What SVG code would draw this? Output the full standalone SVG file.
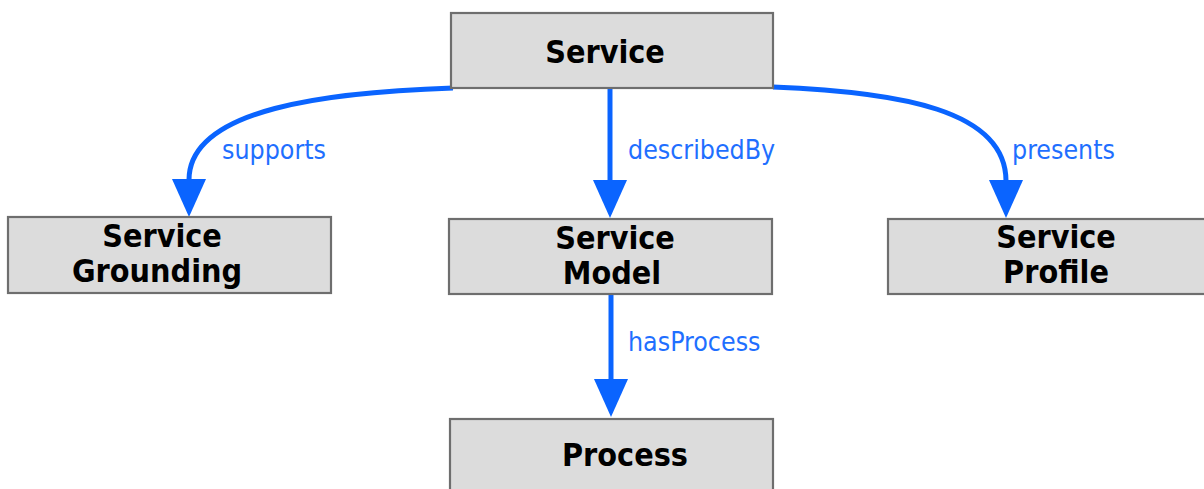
<svg xmlns="http://www.w3.org/2000/svg" width="1204" height="489" viewBox="0 0 1204 489">
<style>
.box{fill:#dcdcdc;stroke:#6e6e6e;stroke-width:2.2}
.nt{font-family:"DejaVu Sans Condensed","DejaVu Sans",sans-serif;font-stretch:condensed;font-weight:bold;font-size:32px;fill:#000;text-anchor:middle}
.edge{fill:none;stroke:#0a64ff;stroke-width:5}
.lbl{font-family:"DejaVu Sans Condensed","DejaVu Sans",sans-serif;font-stretch:condensed;font-size:26.5px;fill:#1f6fff}
</style>
<defs>
<marker id="arr" markerUnits="userSpaceOnUse" markerWidth="40" markerHeight="36" refX="1" refY="17" orient="auto" viewBox="0 0 40 36">
<path d="M0,0 L38,17 L0,34 z" fill="#0a64ff"/>
</marker>
</defs>
<g id="connectors">
<path class="edge" d="M453,88 C330,92 189,108 189,180" marker-end="url(#arr)"/>
<text class="lbl" x="222" y="159">supports</text>
<path class="edge" d="M610,88 L610,181" marker-end="url(#arr)"/>
<text class="lbl" x="628" y="159">describedBy</text>
<path class="edge" d="M773,87 C900,92 1006,110 1006,181" marker-end="url(#arr)"/>
<text class="lbl" x="1012" y="159">presents</text>
<path class="edge" d="M611,294 L611,380" marker-end="url(#arr)"/>
<text class="lbl" x="628" y="351">hasProcess</text>
</g>
<g id="service">
<rect class="box" x="451" y="13" width="322" height="75"/>
<text class="nt" x="605" y="63">Service</text>
</g>
<g id="service-grounding">
<rect class="box" x="8" y="217" width="323" height="76"/>
<text class="nt"><tspan x="162" y="247">Service</tspan><tspan x="157" y="282">Grounding</tspan></text>
</g>
<g id="service-model">
<rect class="box" x="449" y="219" width="323" height="75"/>
<text class="nt"><tspan x="615" y="249">Service</tspan><tspan x="612" y="284">Model</tspan></text>
</g>
<g id="service-profile">
<rect class="box" x="888" y="219" width="323" height="75"/>
<text class="nt"><tspan x="1056" y="248">Service</tspan><tspan x="1056" y="283">Profile</tspan></text>
</g>
<g id="process">
<rect class="box" x="450" y="419" width="323" height="80"/>
<text class="nt" x="625" y="466">Process</text>
</g>
</svg>
